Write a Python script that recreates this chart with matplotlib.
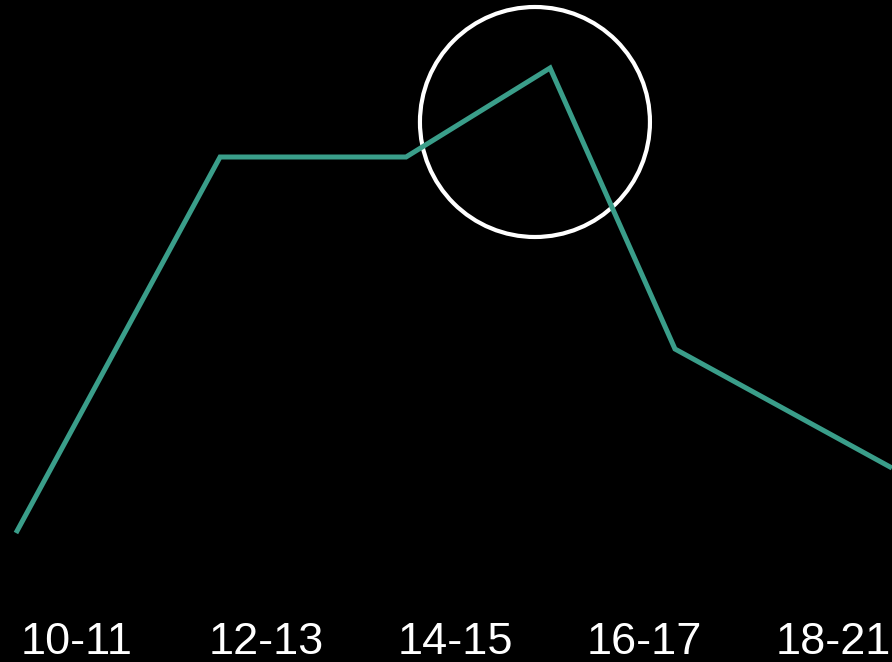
"""Teal line over age bands on a black background, with one point ringed."""

import matplotlib

matplotlib.use("Agg")
from matplotlib import pyplot as plt
from matplotlib.patches import Ellipse

# Age band labels and their positions on the x axis
age_bands = ["10-11", "12-13", "14-15", "16-17", "18-21"]
band_positions = [0, 1, 2, 3, 4]

# Line vertices (x in band units, y in arbitrary value units)
line_x = [-0.323, 0.757, 1.741, 2.503, 3.164, 4.312]
line_y = [129, 505, 505, 594, 313, 194]

# Highlight ring around the peak
ring_center = (2.423, 540)
ring_size = (230 / 189, 230)

background = "black"
teal = "#3a9e8a"

fig = plt.figure(figsize=(8.92, 6.62), dpi=100, facecolor=background)
ax = fig.add_axes([0, 0, 1, 1])
ax.set_facecolor(background)

ax.plot(line_x, line_y, color=teal, linewidth=3.6, solid_joinstyle="miter",
        solid_capstyle="butt")

ax.add_patch(Ellipse(ring_center, ring_size[0], ring_size[1], fill=False,
                     edgecolor="white", linewidth=3.0))

for pos, label in zip(band_positions, age_bands):
    ax.text(pos, 8, label, ha="center", va="baseline", color="white",
            fontsize=32.5, family="Liberation Sans")

ax.set_xlim(-77 / 189, (892 - 77) / 189)
ax.set_ylim(0, 662)
ax.axis("off")

fig.savefig("out.png", dpi=100, facecolor=background)
